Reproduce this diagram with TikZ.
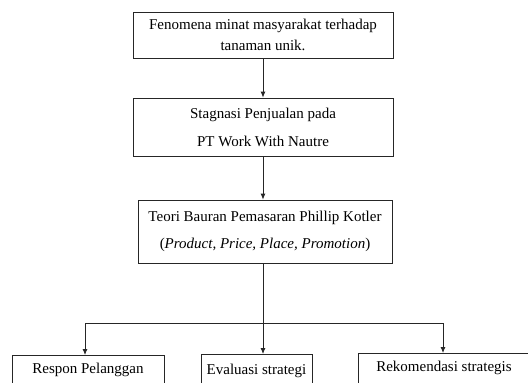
\documentclass[tikz,border=0pt]{standalone}
\usepackage{fontspec}
\setmainfont{Liberation Serif}
\usetikzlibrary{arrows.meta}
\begin{document}
\begin{tikzpicture}[x=1pt,y=-1pt,
  lbl/.style={font=\fontsize{15}{21}\selectfont},
  box/.style={lbl,draw=black!85,line width=0.8pt,align=center,inner sep=0pt},
  conn/.style={line width=0.8pt,draw=black!85},
  arr/.style={conn,-{Latex[length=6pt,width=5pt]}}]
\useasboundingbox (0,0) rectangle (528,383);
\clip (0,0) rectangle (528,383);
\fill[white] (0,0) rectangle (528,383);
\node[box,minimum width=260pt,minimum height=46pt] (b1) at (263,35)
  {Fenomena minat masyarakat terhadap\\tanaman unik.};
\node[box,minimum width=260pt,minimum height=58pt] (b2) at (263,127)
  {Stagnasi Penjualan pada\\[7pt]PT Work With Nautre};
\node[box,minimum width=254pt,minimum height=63pt] (b3) at (265,231.5)
  {Teori Bauran Pemasaran Phillip Kotler\\[6pt](\textit{Product, Price, Place, Promotion})};
\node[box,minimum width=152pt,minimum height=44pt,anchor=north] (ba) at (88,355) {};
\node[lbl] (ta) at (88,370) {Respon Pelanggan};
\node[box,minimum width=111pt,minimum height=44pt,anchor=north] (bb) at (256.5,354) {};
\node[lbl] (tb) at (256.5,371) {Evaluasi strategi};
\node[box,minimum width=175pt,minimum height=44pt,anchor=north west] (bc) at (358,353) {};
\node[lbl] (tc) at (444,368) {Rekomendasi strategis};
\coordinate (sl) at (85,323);
\coordinate (sm) at (263,323);
\coordinate (sr) at (443,323);
\draw[arr] (b1.south -| sm) -- (b2.north -| sm);
\draw[arr] (b2.south -| sm) -- (b3.north -| sm);
\draw[arr] (b3.south -| sm) -- (bb.north -| sm);
\draw[conn] (sl) -- (sr);
\draw[arr] (sl) -- (ba.north -| sl);
\draw[arr] (sr) -- (bc.north -| sr);
\end{tikzpicture}
\end{document}
